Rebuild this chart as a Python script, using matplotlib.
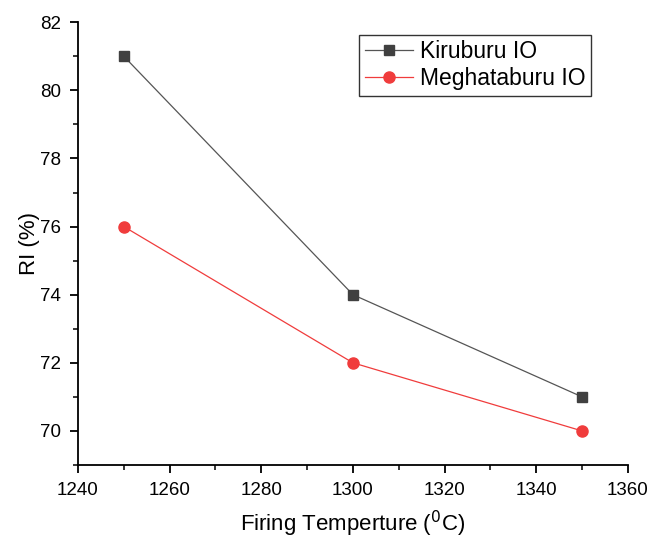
import matplotlib
matplotlib.use("Agg")
import matplotlib.pyplot as plt
from matplotlib.ticker import MultipleLocator

plt.rcParams['font.family'] = ['Liberation Sans', 'DejaVu Sans']

temperature = [1250, 1300, 1350]
kiruburu = [81, 74, 71]
meghataburu = [76, 72, 70]
series_names = ["Kiruburu IO", "Meghataburu IO"]

fig = plt.figure(figsize=(6.5, 5.38), dpi=100)
ax = fig.add_axes([0.12, 0.1357, 0.846, 0.823])

ax.plot(temperature, kiruburu, color='#555555', lw=0.9, marker='s', ms=7,
        mfc='#404040', mec='#404040', label=series_names[0])
ax.plot(temperature, meghataburu, color='#f03c3c', lw=0.9, marker='o', ms=8,
        mfc='#f03c3c', mec='#f03c3c', label=series_names[1])

ax.set_xlim(1240, 1360)
ax.set_ylim(69, 82)
ax.xaxis.set_major_locator(MultipleLocator(20))
ax.xaxis.set_minor_locator(MultipleLocator(10))
ax.yaxis.set_minor_locator(MultipleLocator(1))
ax.set_yticks([70, 72, 74, 76, 78, 80, 82])

for s in ['top', 'right']:
    ax.spines[s].set_visible(False)
for s in ['left', 'bottom']:
    ax.spines[s].set_linewidth(1.3)

ax.tick_params(which='major', direction='out', length=6, width=1.3, labelsize=13.5, pad=6)
ax.tick_params(which='minor', direction='out', length=3.5, width=1.1)

ax.set_xlabel("Firing Temperture ($^{0}$C)", fontsize=16, labelpad=7)
ax.set_ylabel("RI (%)", fontsize=16, labelpad=0)

leg = ax.legend(loc='upper right', bbox_to_anchor=(0.933, 0.972), fontsize=16.5,
                frameon=True, fancybox=False, edgecolor='black', borderpad=0.25,
                handlelength=2.1, handletextpad=0.3, labelspacing=0.15, borderaxespad=0)
leg.get_frame().set_linewidth(1.0)

fig.savefig("out.png", dpi=100)
